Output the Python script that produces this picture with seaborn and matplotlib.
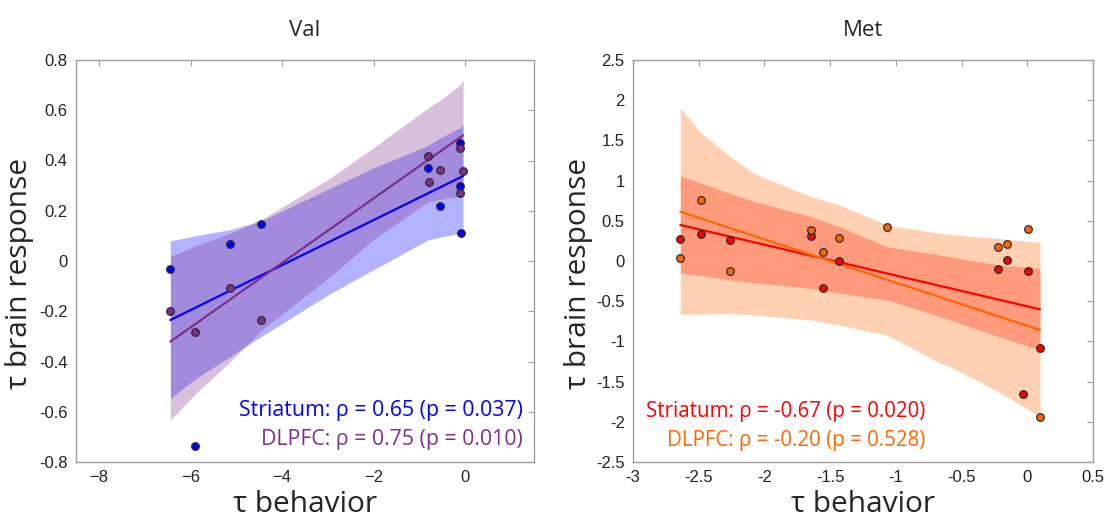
import numpy as np
import pandas as pd
import matplotlib
matplotlib.use("Agg")
import matplotlib.pyplot as plt
import seaborn as sns

# ---------------- Val panel data ----------------
val_str_x = [-6.44, -5.90, -5.13, -4.45, -0.81, -0.55, -0.12, -0.12, -0.10]
val_str_y = [-0.033, -0.736, 0.069, 0.146, 0.369, 0.220, 0.468, 0.297, 0.110]
val_dl_x = [-6.44, -5.90, -5.13, -4.45, -0.81, -0.79, -0.55, -0.12, -0.12, -0.05]
val_dl_y = [-0.200, -0.283, -0.109, -0.234, 0.417, 0.313, 0.361, 0.449, 0.272, 0.357]

val_str_fit_x = [-6.44, -0.05]
val_str_fit_y = [-0.235, 0.338]
val_dl_fit_x = [-6.44, -0.05]
val_dl_fit_y = [-0.321, 0.500]

val_band_x = [-6.44, -5.90, -5.13, -4.45, -2.95, -2.01, -0.81, -0.55, -0.12, -0.05]
val_str_lo = [-0.547, -0.47, -0.38, -0.30, -0.13, -0.035, 0.084, 0.095, 0.110, 0.117]
val_str_hi = [0.080, 0.100, 0.125, 0.160, 0.290, 0.370, 0.460, 0.490, 0.530, 0.545]
val_dl_lo = [-0.633, -0.53, -0.40, -0.275, -0.062, 0.085, 0.236, 0.245, 0.258, 0.263]
val_dl_hi = [0.017, 0.060, 0.110, 0.165, 0.330, 0.450, 0.610, 0.640, 0.700, 0.720]

# ---------------- Met panel data ----------------
met_str_x = [-2.640, -2.485, -2.262, -1.643, -1.554, -1.432, -0.220, -0.151, 0.008, 0.097, -0.034]
met_str_y = [0.278, 0.340, 0.261, 0.307, -0.336, -0.004, -0.103, 0.012, -0.128, -1.086, -1.658]
met_dl_x = [-2.640, -2.485, -2.262, -1.643, -1.554, -1.432, -1.065, -0.220, -0.151, 0.008, 0.097]
met_dl_y = [0.033, 0.762, -0.120, 0.386, 0.108, 0.286, 0.423, 0.178, 0.208, 0.402, -1.936]

met_str_fit_x = [-2.64, 0.097]
met_str_fit_y = [0.448, -0.601]
met_dl_fit_x = [-2.64, 0.097]
met_dl_fit_y = [0.613, -0.858]

met_band_x = [-2.640, -2.485, -2.262, -2.08, -1.643, -1.432, -1.065, -0.664, -0.588, -0.220, 0.097]
met_str_lo = [-0.153, -0.18, -0.236, -0.27, -0.340, -0.400, -0.485, -0.69, -0.734, -0.94, -1.107]
met_str_hi = [1.061, 0.97, 0.842, 0.74, 0.551, 0.427, 0.178, 0.075, 0.053, -0.050, -0.090]
met_dl_lo = [-0.663, -0.66, -0.651, -0.67, -0.734, -0.796, -0.920, -1.27, -1.314, -1.625, -1.936]
met_dl_hi = [1.900, 1.600, 1.300, 1.090, 0.800, 0.697, 0.448, 0.344, 0.330, 0.280, 0.233]

val_text = ["Striatum: \u03c1 = 0.65 (p = 0.037)", "DLPFC: \u03c1 = 0.75 (p = 0.010)"]
met_text = ["Striatum: \u03c1 = -0.67 (p = 0.020)", "DLPFC: \u03c1 = -0.20 (p = 0.528)"]

val_xticks = [-8, -6, -4, -2, 0]
val_yticks = [-0.8, -0.6, -0.4, -0.2, 0, 0.2, 0.4, 0.6, 0.8]
met_xticks = [-3, -2.5, -2, -1.5, -1, -0.5, 0, 0.5]
met_yticks = [-2.5, -2, -1.5, -1, -0.5, 0, 0.5, 1, 1.5, 2, 2.5]

BLUE = "#0000ff"
PURPLE = "#7e2f8e"
RED = "#ff0000"
ORANGE = "#ff6600"

sns.set_style("white")
plt.rcParams["font.family"] = ["Liberation Sans", "DejaVu Sans"]

fig = plt.figure(figsize=(11.06, 5.27), dpi=100)
W, H = 1106, 527
ax1 = fig.add_axes([76 / W, 1 - 462 / H, 458 / W, 402 / H])
ax2 = fig.add_axes([633 / W, 1 - 462 / H, 460 / W, 402 / H])

label_font = ["Open Sans", "DejaVu Sans"]


def draw_panel(ax, band_x, bands, fits, pts, colors):
    (lo1, hi1), (lo2, hi2) = bands
    ax.fill_between(band_x, lo1, hi1, color=colors[0], alpha=0.3, lw=0, zorder=1)
    ax.fill_between(band_x, lo2, hi2, color=colors[1], alpha=0.3, lw=0, zorder=1)
    for (fx, fy), c in zip(fits, colors):
        sns.lineplot(x=fx, y=fy, ax=ax, color=c, lw=1.6, zorder=3)
    for (px, py), c in zip(pts, colors):
        sns.scatterplot(x=px, y=py, ax=ax, color=c, s=30, edgecolor="#2a2a2a",
                        linewidth=0.9, zorder=4)


draw_panel(ax1, val_band_x,
           [(val_str_lo, val_str_hi), (val_dl_lo, val_dl_hi)],
           [(val_str_fit_x, val_str_fit_y), (val_dl_fit_x, val_dl_fit_y)],
           [(val_str_x, val_str_y), (val_dl_x, val_dl_y)],
           [BLUE, PURPLE])
draw_panel(ax2, met_band_x,
           [(met_str_lo, met_str_hi), (met_dl_lo, met_dl_hi)],
           [(met_str_fit_x, met_str_fit_y), (met_dl_fit_x, met_dl_fit_y)],
           [(met_str_x, met_str_y), (met_dl_x, met_dl_y)],
           [RED, ORANGE])

ax1.set_xlim(-8.5, 1.5)
ax1.set_ylim(-0.8, 0.8)
ax1.set_xticks(val_xticks)
ax1.set_yticks(val_yticks)
ax1.set_yticklabels([f"{v:g}" for v in val_yticks])

ax2.set_xlim(-3, 0.5)
ax2.set_ylim(-2.5, 2.5)
ax2.set_xticks(met_xticks)
ax2.set_yticks(met_yticks)
ax2.set_xticklabels([f"{v:g}" for v in met_xticks])
ax2.set_yticklabels([f"{v:g}" for v in met_yticks])

for ax, title, lx in [(ax1, "Val", -0.092), (ax2, "Met", -0.086)]:
    for sp in ax.spines.values():
        sp.set_visible(True)
        sp.set_color("#a0a0a0")
        sp.set_linewidth(1.0)
    ax.tick_params(direction="in", top=True, right=True, length=4, width=0.8,
                   color="#a0a0a0", labelsize=12, labelcolor="#222222", pad=6)
    ax.set_title(title, fontsize=16, family=label_font, pad=17)
    ax.set_xlabel("\u03c4 behavior", fontsize=21.5, family=label_font, labelpad=3)
    ax.set_ylabel("\u03c4 brain response", fontsize=21.5, family=label_font)
    ax.yaxis.set_label_coords(lx, 0.47)

ax1.text(1.26, -0.595, val_text[0], color=BLUE, fontsize=15.3, ha="right", va="center", family=label_font)
ax1.text(1.26, -0.71, val_text[1], color=PURPLE, fontsize=15.3, ha="right", va="center", family=label_font)
ax2.text(-0.78, -1.87, met_text[0], color=RED, fontsize=14.8, ha="right", va="center", family=label_font)
ax2.text(-0.78, -2.23, met_text[1], color=ORANGE, fontsize=14.8, ha="right", va="center", family=label_font)

fig.savefig("out.png", dpi=100)
